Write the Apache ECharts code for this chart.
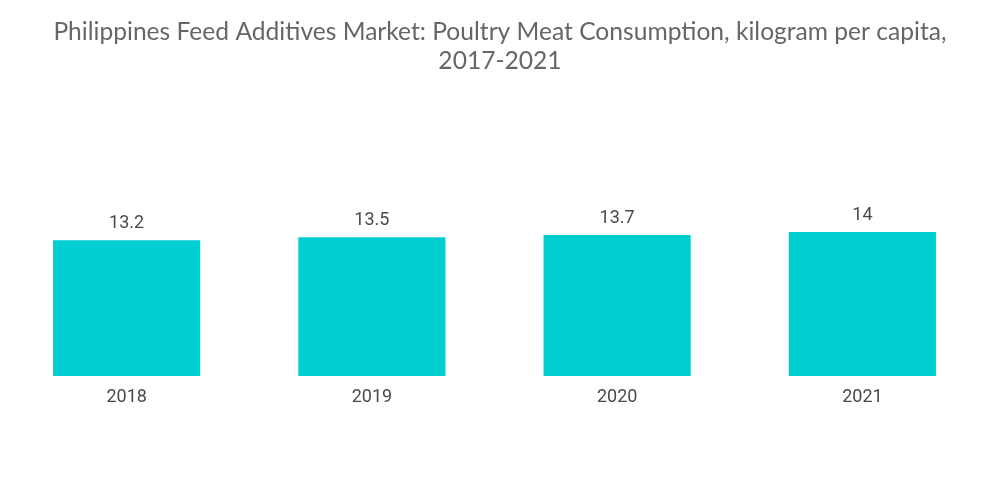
<!DOCTYPE html>
<html><head><meta charset="utf-8">
<script src="https://cdn.jsdelivr.net/npm/echarts@6/dist/echarts.min.js"></script>
<style>html,body{margin:0;padding:0;background:#fff}#c{width:1000px;height:504px}</style>
</head><body><div id="c"></div>
<script>
const categories = ['2018', '2019', '2020', '2021'];
const values = [13.2, 13.5, 13.7, 14];
const titleText = 'Philippines Feed Additives Market: Poultry Meat Consumption, kilogram per capita,\n2017-2021';
const chart = echarts.init(document.getElementById('c'));
chart.setOption({
  animation: false,
  title: {
    text: titleText, left: 'center', top: 13,
    textStyle: { fontFamily: 'Lato', fontWeight: 'normal', fontSize: 24.6, color: '#666666', lineHeight: 29 }
  },
  grid: { left: 4, right: 15, top: 232, bottom: 128 },
  xAxis: {
    type: 'category', data: categories,
    axisLine: { show: false }, axisTick: { show: false },
    axisLabel: { fontFamily: 'Roboto', fontSize: 18, color: '#4a4a4a', margin: 12 }
  },
  yAxis: { type: 'value', min: 0, max: 14, show: false, splitLine: { show: false } },
  series: [{
    type: 'bar', data: values, barWidth: '60%',
    itemStyle: { color: '#00CED1' },
    label: { show: true, position: 'top', distance: 8, fontFamily: 'Roboto', fontSize: 18, color: '#4a4a4a' }
  }]
});
</script></body></html>
